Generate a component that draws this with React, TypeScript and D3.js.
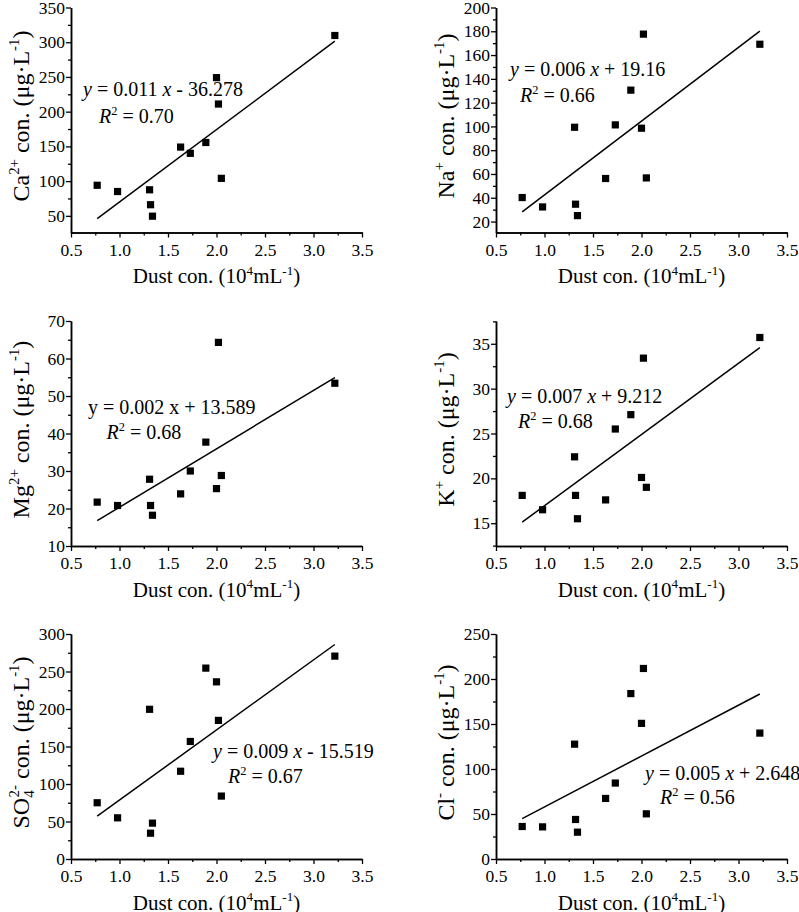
import { useEffect, useRef } from 'react'
import * as d3 from 'd3'

// dust concentration (10^4 mL^-1), same samples in every panel
const dust = [0.77, 0.98, 1.31, 1.32, 1.34, 1.63, 1.73, 1.89, 2.0, 2.02, 2.05, 3.22]

// ion concentrations (µg·L-1)
const ca = [94, 85, 87.5, 66, 49.5, 149, 140, 155.6, 249, 211, 104, 309.7]
const na = [40.2, 32.3, 99.3, 34.6, 25, 56.2, 101.3, 130.5, 98.5, 177.6, 56.7, 169.1]
const mg = [21.7, 20.8, 27.8, 20.8, 18.2, 23.9, 30.0, 37.7, 25.3, 64.3, 28.8, 53.4]
const k = [18.1, 16.5, 22.4, 18.1, 15.5, 17.6, 25.5, 27.1, 20.1, 33.4, 19.0, 35.7]
const so4 = [75, 54.9, 199.6, 34.4, 47.8, 117, 156.7, 254.5, 236.2, 184.8, 83.9, 270.5]
const cl = [36.1, 35.7, 127.6, 43.9, 29.8, 67.3, 84.4, 183.8, 150.7, 211.7, 50.2, 139.9]

const xTicks = [0.5, 1.0, 1.5, 2.0, 2.5, 3.0, 3.5]
const equations = ['0.011 x - 36.278', '0.006 x + 19.16', '0.002 x + 13.589', '0.007 x + 9.212', '0.009 x - 15.519', '0.005 x + 2.648']
const r2 = ['0.70', '0.66', '0.68', '0.68', '0.67', '0.56']

type Seg = { t: string; sup?: boolean; sub?: boolean; it?: boolean; back?: number }

interface Panel {
  values: number[]
  yDomain: [number, number]
  yStep: number
  ion: Seg[]
  italicEq: boolean
  col: number
  row: number
  eqPos: [number, number]
  r2Pos: [number, number]
}

const unit: Seg[] = [{ t: ' con. (μg·L' }, { t: '-1', sup: true }, { t: ')' }]

const panels: Panel[] = [
  { values: ca, yDomain: [26, 350], yStep: 50, ion: [{ t: 'Ca' }, { t: '2+', sup: true }], italicEq: true, col: 0, row: 0, eqPos: [83, 96], r2Pos: [99, 122.5] },
  { values: na, yDomain: [10.8, 200], yStep: 20, ion: [{ t: 'Na' }, { t: '+', sup: true }], italicEq: true, col: 1, row: 0, eqPos: [510, 76], r2Pos: [520, 101.5] },
  { values: mg, yDomain: [10, 70], yStep: 10, ion: [{ t: 'Mg' }, { t: '2+', sup: true }], italicEq: false, col: 0, row: 1, eqPos: [88, 414], r2Pos: [106.5, 439] },
  { values: k, yDomain: [12.46, 37.54], yStep: 5, ion: [{ t: 'K' }, { t: '+', sup: true }], italicEq: true, col: 1, row: 1, eqPos: [507, 402.5], r2Pos: [518, 428] },
  { values: so4, yDomain: [0, 300], yStep: 50, ion: [{ t: 'SO' }, { t: '4', sub: true }, { t: '2-', sup: true, back: 7 }], italicEq: true, col: 0, row: 2, eqPos: [213, 758], r2Pos: [228, 782.5] },
  { values: cl, yDomain: [0, 250], yStep: 50, ion: [{ t: 'Cl' }, { t: '-', sup: true }], italicEq: true, col: 1, row: 2, eqPos: [645, 780], r2Pos: [660, 804] },
]

const colX = [71, 496]
const rowY = [7.5, 321, 634]
const plotW = 291
const plotH = 225
const font = "'Liberation Serif', 'Times New Roman', serif"

function rich(sel: d3.Selection<SVGTextElement, unknown, null, undefined>, segs: Seg[], size: number) {
  let shift = 0
  segs.forEach((s) => {
    const small = s.sup || s.sub
    const target = s.sup ? -size * 0.4 : s.sub ? size * 0.22 : 0
    const ts = sel.append('tspan').text(s.t)
      .attr('font-size', small ? size * 0.62 : size)
      .attr('dy', target - shift)
    if (s.it) ts.attr('font-style', 'italic')
    if (s.back) ts.attr('dx', -s.back)
    shift = target
  })
}

function linfit(xs: number[], ys: number[]) {
  const mx = d3.mean(xs)!
  const my = d3.mean(ys)!
  let sxy = 0
  let sxx = 0
  xs.forEach((x, i) => {
    sxy += (x - mx) * (ys[i] - my)
    sxx += (x - mx) * (x - mx)
  })
  const b = sxy / sxx
  return (x: number) => my + b * (x - mx)
}

export default function App() {
  const svgRef = useRef<SVGSVGElement>(null)

  useEffect(() => {
    if (!svgRef.current) return
    const svg = d3.select(svgRef.current)
    svg.selectAll('*').remove()

    panels.forEach((p, pi) => {
      const x0 = colX[p.col]
      const y0 = rowY[p.row]
      const g = svg.append('g').attr('transform', `translate(${x0},${y0})`)

      const x = d3.scaleLinear().domain([0.5, 3.5]).range([0, plotW])
      const y = d3.scaleLinear().domain(p.yDomain).range([plotH, 0])

      const yMajor = d3.range(Math.ceil(p.yDomain[0] / p.yStep) * p.yStep, p.yDomain[1] + 1e-6, p.yStep)
      const yMinor = d3.range(Math.ceil((p.yDomain[0] - p.yStep / 2) / p.yStep) * p.yStep + p.yStep / 2, p.yDomain[1] + 1e-6, p.yStep)
        .filter((v) => v >= p.yDomain[0] - 1e-6)
      const xMinor = d3.range(0.75, 3.5, 0.5)

      // minor ticks
      g.append('g').attr('transform', `translate(0,${plotH})`)
        .call(d3.axisBottom(x).tickValues(xMinor).tickSize(3).tickSizeOuter(0).tickFormat(() => ''))
      g.append('g')
        .call(d3.axisLeft(y).tickValues(yMinor).tickSize(3).tickSizeOuter(0).tickFormat(() => ''))

      const xa = g.append('g').attr('transform', `translate(0,${plotH})`)
        .call(d3.axisBottom(x).tickValues(xTicks).tickSize(5).tickSizeOuter(0).tickPadding(6).tickFormat(d3.format('.1f')))
      const ya = g.append('g')
        .call(d3.axisLeft(y).tickValues(yMajor).tickSize(5).tickSizeOuter(0).tickPadding(1).tickFormat(d3.format('d')))

      g.selectAll('.domain').attr('stroke', '#000').attr('stroke-width', 1.5)
      g.selectAll('.tick line').attr('stroke', '#000').attr('stroke-width', 1.3)
      ;[xa, ya].forEach((a) => a.selectAll('text')
        .attr('font-family', font).attr('font-size', 17.5).attr('fill', '#000'))

      // regression line
      const fit = linfit(dust, p.values)
      const ends = d3.extent(dust) as [number, number]
      g.append('path')
        .attr('d', d3.line<number>().x((d) => x(d)).y((d) => y(fit(d)))(ends))
        .attr('stroke', '#000').attr('stroke-width', 1.5).attr('fill', 'none')

      // points
      g.selectAll('rect.pt')
        .data(dust)
        .join('rect')
        .attr('class', 'pt')
        .attr('x', (d) => x(d) - 3.6)
        .attr('y', (_, i) => y(p.values[i]) - 3.6)
        .attr('width', 7.2)
        .attr('height', 7.2)
        .attr('fill', '#000')

      // x title
      const xt = g.append('text')
        .attr('x', plotW / 2).attr('y', plotH + 50.5)
        .attr('text-anchor', 'middle').attr('font-family', font).attr('fill', '#000')
      rich(xt, [{ t: 'Dust con. (10' }, { t: '4', sup: true }, { t: 'mL' }, { t: '-1', sup: true }, { t: ')' }], 21)

      // y title
      const yt = g.append('text')
        .attr('transform', `translate(-42.5,${plotH / 2 - 4}) rotate(-90)`)
        .attr('text-anchor', 'middle').attr('font-family', font).attr('fill', '#000')
      rich(yt, [...p.ion, ...unit], 24)

      // equation
      const eq = svg.append('text')
        .attr('x', p.eqPos[0]).attr('y', p.eqPos[1])
        .attr('font-family', font).attr('fill', '#000')
      rich(eq, [
        { t: 'y', it: p.italicEq }, { t: ' = ' + equations[pi].split(' x ')[0] + ' ' },
        { t: 'x', it: p.italicEq }, { t: ' ' + equations[pi].split(' x ')[1] },
      ], 20)
      const rt = svg.append('text')
        .attr('x', p.r2Pos[0]).attr('y', p.r2Pos[1])
        .attr('font-family', font).attr('fill', '#000')
      rich(rt, [{ t: 'R', it: true }, { t: '2', sup: true }, { t: ' = ' + r2[pi] }], 20)
    })
  }, [])

  return (
    <svg
      ref={svgRef}
      width={799}
      height={912}
      style={{ position: 'absolute', left: 0, top: 0, background: '#fff' }}
    />
  )
}
